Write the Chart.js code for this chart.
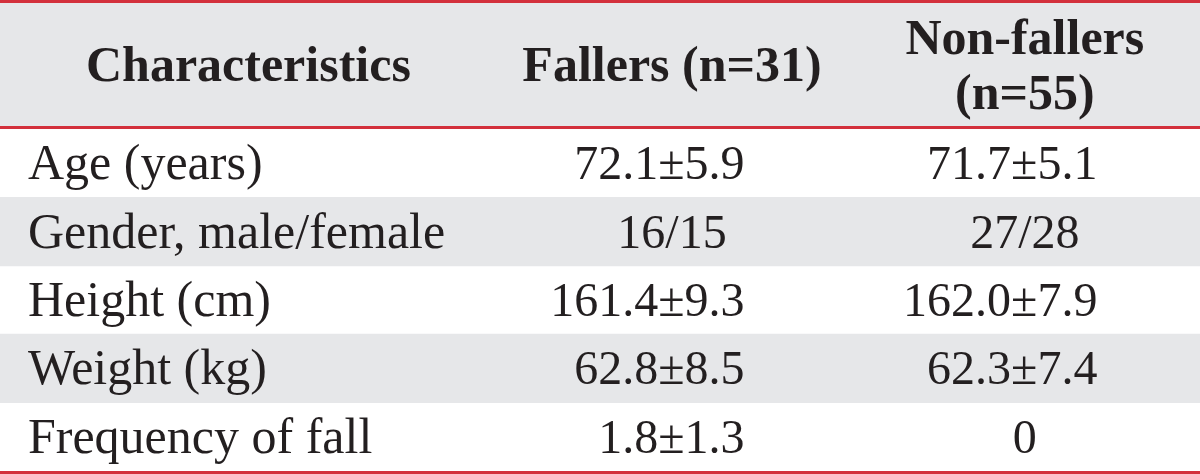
<!DOCTYPE html>
<html>
<head>
<meta charset="utf-8">
<script src="https://cdn.jsdelivr.net/npm/chart.js@4/dist/chart.umd.min.js"></script>
<style>
  html, body { margin: 0; padding: 0; background: #fff; }
  #wrap { width: 1200px; height: 474px; }
</style>
</head>
<body>
<div id="wrap"><canvas id="table" width="1200" height="474"></canvas></div>
<script>
// table contents
const headers = ['Characteristics', 'Fallers (n=31)', ['Non-fallers', '(n=55)']];
const characteristics = ['Age (years)', 'Gender, male/female', 'Height (cm)', 'Weight (kg)', 'Frequency of fall'];
const fallers = ['72.1±5.9', '16/15', '161.4±9.3', '62.8±8.5', '1.8±1.3'];
const nonFallers = ['71.7±5.1', '27/28', '162.0±7.9', '62.3±7.4', '0'];
const shadedRows = [false, true, false, true, false];

const RED = '#d3303c';
const GRAY = '#e6e7e9';
const INK = '#231f20';
const SERIF = '"Liberation Serif", "Times New Roman", serif';

// column anchors in x-scale units (0..100 across the table)
const col = { label: 2.33, labelHead: 20.7, fallers: 56.0, nonFallers: 85.4, plusOffset: 6.05 };

const tablePlugin = {
    id: 'tableText',
    beforeDatasetsDraw(chart) {
        const { ctx, chartArea } = chart;
        ctx.save();
        ctx.fillStyle = GRAY;
        ctx.fillRect(0, 2, chart.width, chartArea.top - 3);
        ctx.restore();
    },
    afterDatasetsDraw(chart) {
        const { ctx, chartArea, scales: { x, y } } = chart;
        ctx.save();
        ctx.fillStyle = INK;
        ctx.textBaseline = 'alphabetic';

        // header
        const headMid = (2 + chartArea.top - 2) / 2;
        ctx.font = 'bold 50px ' + SERIF;
        ctx.textAlign = 'center';
        const headX = [col.labelHead, col.fallers, col.nonFallers];
        headers.forEach((h, i) => {
            const lines = Array.isArray(h) ? h : [h];
            lines.forEach((line, j) => {
                const off = (j - (lines.length - 1) / 2) * 55;
                ctx.fillText(line, x.getPixelForValue(headX[i]), headMid + 16.5 + off);
            });
        });

        // body rows
        characteristics.forEach((label, i) => {
            const cy = y.getPixelForValue(i) + 16;
            ctx.font = '50px ' + SERIF;
            ctx.textAlign = 'left';
            ctx.fillText(label, x.getPixelForValue(col.label), cy);

            ctx.font = '48px ' + SERIF;
            [[fallers[i], col.fallers], [nonFallers[i], col.nonFallers]].forEach(([v, c]) => {
                if (v.includes('±')) {
                    ctx.textAlign = 'right';
                    ctx.fillText(v, x.getPixelForValue(c + col.plusOffset), cy);
                } else {
                    ctx.textAlign = 'center';
                    ctx.fillText(v, x.getPixelForValue(c), cy);
                }
            });
        });

        // red rules
        ctx.strokeStyle = RED;
        ctx.lineWidth = 3;
        [1.5, chartArea.top - 1.5, chartArea.bottom + 1.5].forEach(ly => {
            ctx.beginPath();
            ctx.moveTo(0, ly);
            ctx.lineTo(chart.width, ly);
            ctx.stroke();
        });
        ctx.restore();
    }
};

new Chart(document.getElementById('table'), {
    type: 'bar',
    data: {
        labels: characteristics,
        datasets: [{
            label: 'row shading',
            data: shadedRows.map(s => s ? [0, 100] : null),
            backgroundColor: GRAY,
            borderWidth: 0,
            borderSkipped: false,
            barPercentage: 1,
            categoryPercentage: 1
        }]
    },
    options: {
        indexAxis: 'y',
        responsive: false,
        animation: false,
        layout: { padding: { top: 129, bottom: 3, left: 0, right: 0 } },
        plugins: { legend: { display: false }, tooltip: { enabled: false } },
        scales: {
            x: { type: 'linear', min: 0, max: 100, display: false },
            y: { type: 'category', display: false }
        }
    },
    plugins: [tablePlugin]
});
</script>
</body>
</html>
